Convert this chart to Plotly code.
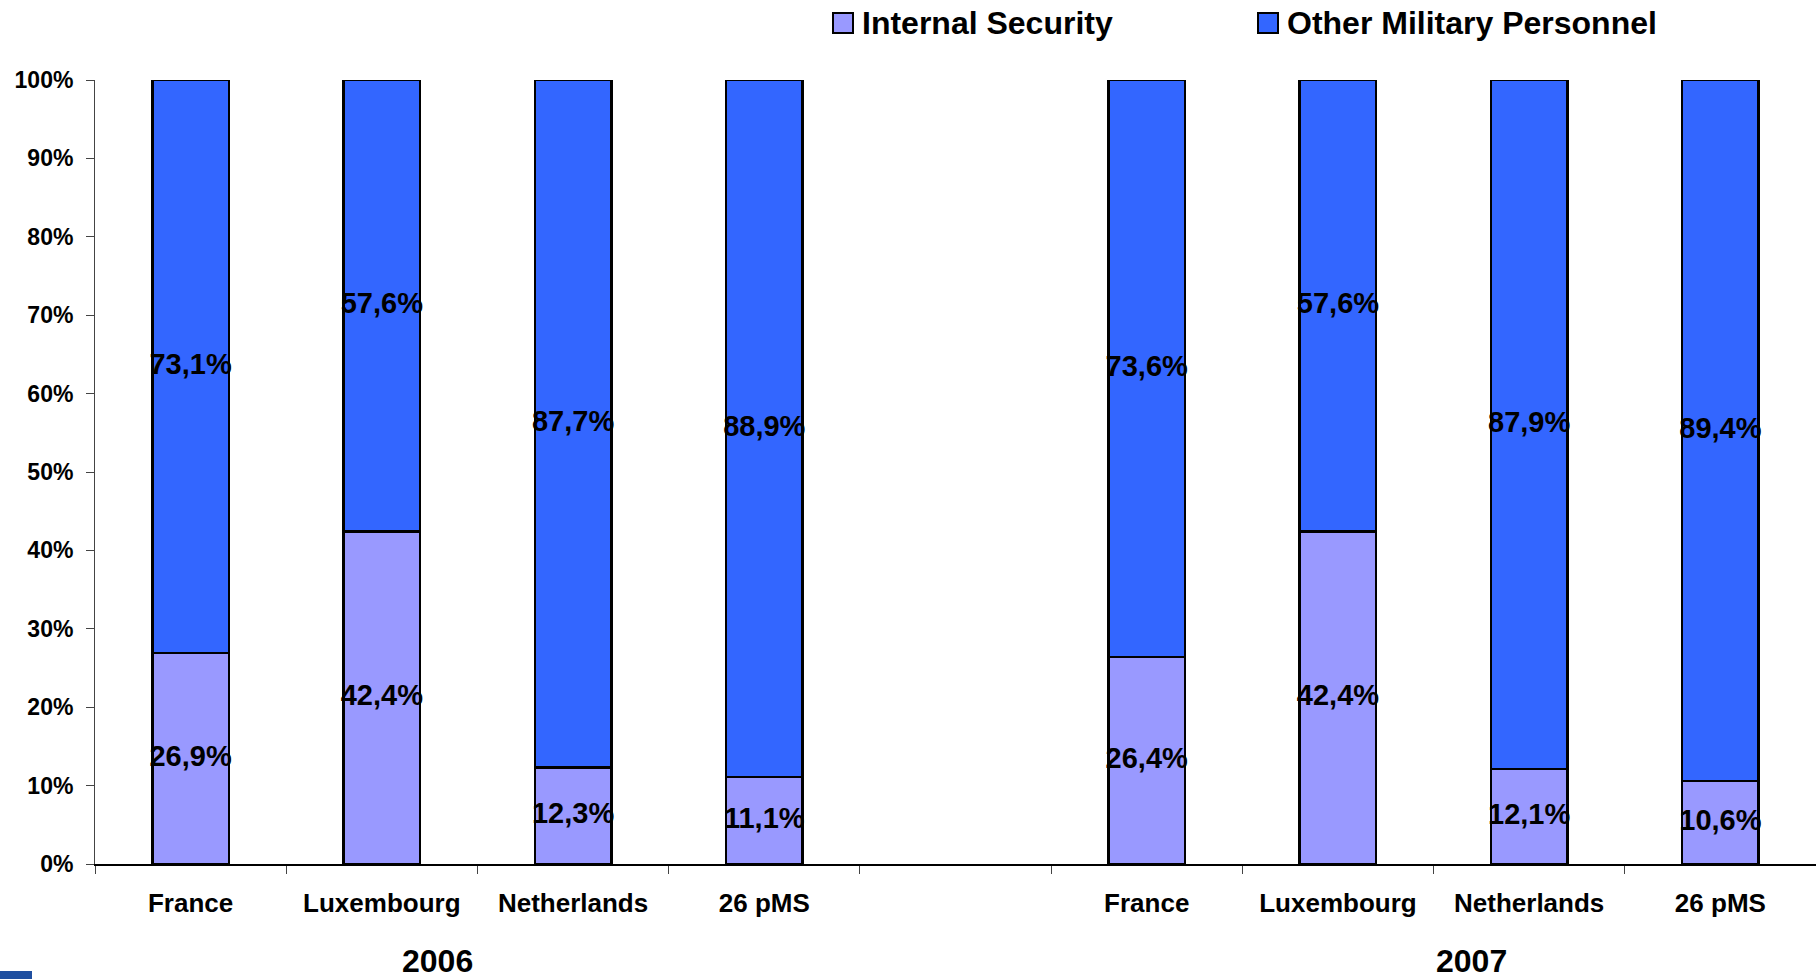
import plotly.graph_objects as go

# ---------------- data ----------------
categories = ["France", "Luxembourg", "Netherlands", "26 pMS", "",
              "France", "Luxembourg", "Netherlands", "26 pMS"]
internal_security = [26.9, 42.4, 12.3, 11.1, None, 26.4, 42.4, 12.1, 10.6]
other_military = [73.1, 57.6, 87.7, 88.9, None, 73.6, 57.6, 87.9, 89.4]
series_names = ["Internal Security", "Other Military Personnel"]
series_colors = ["#9999FF", "#3366FF"]
years = ["2006", "2007"]
year_centers = [1.29, 6.70]          # position of the year captions on the category axis
y_ticks = [0, 10, 20, 30, 40, 50, 60, 70, 80, 90, 100]

# ---------------- layout constants ----------------
W, H = 1816, 979
ML, MR, MT, MB = 95, 0, 80, 115
PW, PH = W - ML - MR, H - MT - MB
FONT = "Liberation Sans, Arial, sans-serif"


def px(x):
    return (x - ML) / PW


def py(y):
    return (H - MB - y) / PH


def fmt(v):
    return f"{v:.1f}".replace(".", ",") + "%"


x = list(range(len(categories)))
fig = go.Figure()

for name, vals, col in zip(series_names, [internal_security, other_military], series_colors):
    fig.add_trace(go.Bar(
        x=x, y=vals, name=name, width=0.4,
        marker=dict(color=col, line=dict(color="black", width=2.5)),
        showlegend=False, hoverinfo="skip",
    ))

# data labels centred in each segment
lab_x, lab_y, lab_t = [], [], []
for i, (a, b) in enumerate(zip(internal_security, other_military)):
    if a is None:
        continue
    lab_x += [i, i]
    lab_y += [a / 2, a + b / 2]
    lab_t += [fmt(a), fmt(b)]
fig.add_trace(go.Scatter(
    x=lab_x, y=lab_y, text=lab_t, mode="text", showlegend=False, hoverinfo="skip",
    textfont=dict(family=FONT, size=29, color="black", weight=700),
))

# manual legend
legend_sq_x = [833, 1258]
shapes, annotations = [], []
for name, col, sx in zip(series_names, series_colors, legend_sq_x):
    shapes.append(dict(type="rect", xref="paper", yref="paper",
                       x0=px(sx), x1=px(sx + 20), y0=py(33), y1=py(13),
                       fillcolor=col, line=dict(color="black", width=2)))
    annotations.append(dict(text=name, xref="paper", yref="paper",
                            x=px(sx + 27), y=py(23), xanchor="left", yanchor="middle",
                            showarrow=False,
                            font=dict(family=FONT, size=32, color="black", weight=700)))

# year captions
for yr, xc in zip(years, year_centers):
    annotations.append(dict(text=yr, xref="x", yref="paper", x=xc, y=py(961),
                            xanchor="center", yanchor="middle", showarrow=False,
                            font=dict(family=FONT, size=32, color="black", weight=700)))

# decorative blue strip bottom-left
shapes.append(dict(type="rect", xref="paper", yref="paper",
                   x0=px(0), x1=px(32), y0=py(979), y1=py(971),
                   fillcolor="#1F4FA0", line=dict(width=0)))

tick_idx = [i for i, c in enumerate(categories) if c]
fig.update_layout(
    width=W, height=H,
    margin=dict(l=ML, r=MR, t=MT, b=MB, autoexpand=False),
    paper_bgcolor="white", plot_bgcolor="white",
    barmode="stack", bargap=0.6,
    shapes=shapes, annotations=annotations,
    xaxis=dict(
        range=[-0.5, len(categories) - 0.5],
        tickmode="array", tickvals=tick_idx, ticktext=[categories[i] for i in tick_idx],
        ticks="", showgrid=False, zeroline=False,
        showline=True, linecolor="black", linewidth=1.5,
        tickfont=dict(family=FONT, size=26, color="black", weight=700),
        ticklabelstandoff=15,
        minor=dict(tickmode="linear", tick0=-0.5, dtick=1, ticks="outside",
                   ticklen=8, tickcolor="#444444", tickwidth=1, showgrid=False),
    ),
    yaxis=dict(
        range=[0, 100], tickmode="array", tickvals=y_ticks,
        ticktext=[f"{v}%" for v in y_ticks],
        ticks="outside", ticklen=8, tickcolor="#444444", tickwidth=1,
        showgrid=False, zeroline=False,
        showline=True, linecolor="#444444", linewidth=1,
        tickfont=dict(family=FONT, size=23, color="black", weight=700),
        ticklabelstandoff=8,
    ),
)

fig.write_html("out.html", config={"displayModeBar": False},
               post_script="document.body.style.margin='0';")
